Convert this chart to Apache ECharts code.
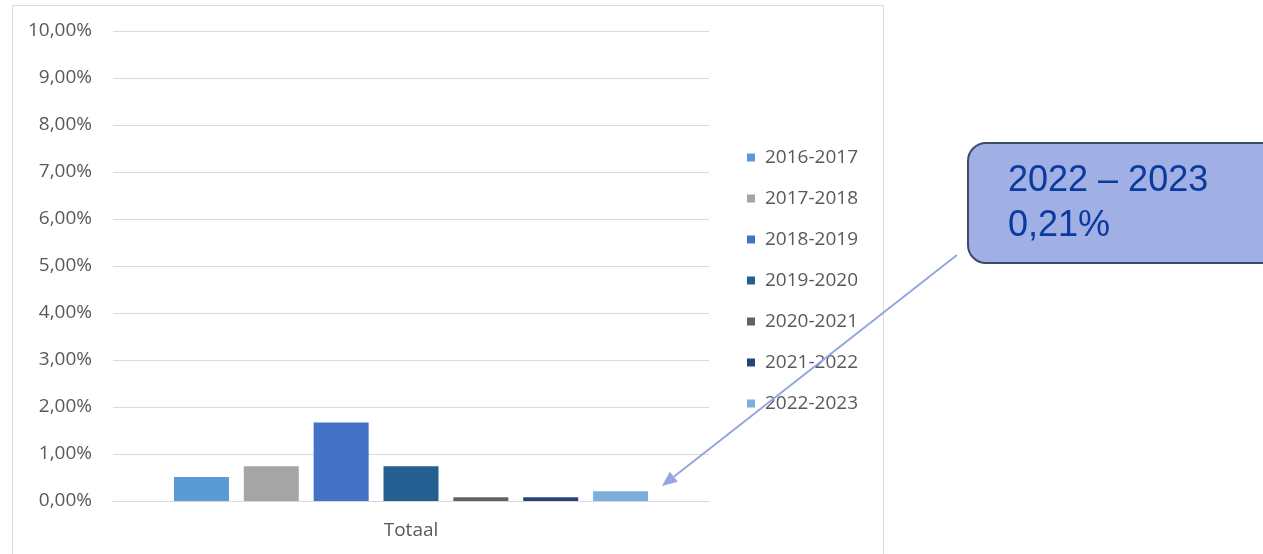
<!DOCTYPE html>
<html>
<head>
<meta charset="utf-8">
<script src="https://cdn.jsdelivr.net/npm/echarts@6/dist/echarts.min.js"></script>
<style>
html,body{margin:0;padding:0;background:#fff;}
#chart{width:1263px;height:554px;}
</style>
</head>
<body>
<div id="chart"></div>
<script>
const categories = ['Totaal'];
const seriesNames = ['2016-2017','2017-2018','2018-2019','2019-2020','2020-2021','2021-2022','2022-2023'];
const seriesValues = [0.51, 0.74, 1.67, 0.74, 0.08, 0.08, 0.21];
const seriesColors = ['#5B9BD5','#A5A5A5','#4472C4','#255E91','#636363','#264478','#7CAFDD'];
const yTicks = {min: 0, max: 10, interval: 1};
const calloutLines = ['2022 – 2023', '0,21%'];

const chart = echarts.init(document.getElementById('chart'), null, {renderer: 'canvas'});
const font = '"Open Sans", sans-serif';
const txt = '#595959';

const series = seriesNames.map((n, i) => ({
  name: n,
  type: 'bar',
  data: [seriesValues[i]],
  barWidth: 55,
  barGap: '27%',
  itemStyle: {color: seriesColors[i]},
  emphasis: {disabled: true}
}));

// arrow geometry
const ax0 = 957, ay0 = 255, ax1 = 662, ay1 = 486;
const dx = ax1 - ax0, dy = ay1 - ay0, L = Math.hypot(dx, dy);
const ux = dx / L, uy = dy / L;
const hl = 15, hw = 6.5;
const bx = ax1 - ux * hl, by = ay1 - uy * hl;
const px = -uy * hw, py = ux * hw;

chart.setOption({
  animation: false,
  grid: {left: 113, right: 554, top: 31, bottom: 53, containLabel: false},
  legend: {
    orient: 'vertical',
    left: 747,
    top: 148,
    padding: 0,
    itemWidth: 8,
    itemHeight: 8,
    itemGap: 22,
    icon: 'rect',
    selectedMode: false,
    textStyle: {fontFamily: font, fontSize: 19, color: txt, lineHeight: 19, padding: [0, 0, 0, 5]},
    data: seriesNames
  },
  xAxis: {
    type: 'category',
    data: categories,
    axisLine: {show: true, lineStyle: {color: '#D9D9D9'}},
    axisTick: {show: false},
    axisLabel: {fontFamily: font, fontSize: 19, color: txt, margin: 20}
  },
  yAxis: {
    type: 'value',
    min: yTicks.min,
    max: yTicks.max,
    interval: yTicks.interval,
    axisLine: {show: false},
    axisTick: {show: false},
    splitLine: {lineStyle: {color: '#D9D9D9', width: 1}},
    axisLabel: {
      fontFamily: font, fontSize: 19, color: txt, margin: 21,
      formatter: v => v.toFixed(2).replace('.', ',') + '%'
    }
  },
  series: series,
  graphic: [
    {type: 'rect', silent: true, z: -1, shape: {x: 12.5, y: 5.5, width: 871, height: 600}, style: {fill: 'none', stroke: '#D9D9D9', lineWidth: 1}},
    {type: 'rect', silent: true, z: 10, shape: {x: 968, y: 143, width: 320, height: 120, r: 18}, style: {fill: '#A0B0E4', stroke: '#3E4A69', lineWidth: 2}},
    {type: 'text', silent: true, z: 11, x: 1008, y: 181, style: {text: calloutLines[0], fontFamily: '"Liberation Sans", Arial, sans-serif', fontSize: 36, fill: '#0A3A9E', verticalAlign: 'middle'}},
    {type: 'text', silent: true, z: 11, x: 1008, y: 226, style: {text: calloutLines[1], fontFamily: '"Liberation Sans", Arial, sans-serif', fontSize: 36, fill: '#0A3A9E', verticalAlign: 'middle'}},
    {type: 'line', silent: true, z: 12, shape: {x1: ax0, y1: ay0, x2: bx, y2: by}, style: {stroke: '#94A6E2', lineWidth: 2}},
    {type: 'polygon', silent: true, z: 12, shape: {points: [[ax1, ay1], [bx + px, by + py], [bx - px, by - py]]}, style: {fill: '#94A6E2'}}
  ]
});
</script>
</body>
</html>
